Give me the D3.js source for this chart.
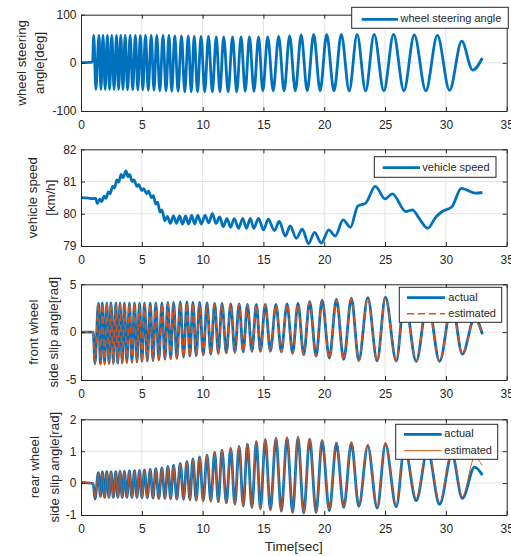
<!DOCTYPE html>
<html>
<head>
<meta charset="utf-8">
<script src="https://cdn.jsdelivr.net/npm/d3@7/dist/d3.min.js"></script>
<style>
  body { margin: 0; background: #fff; }
  text { font-family: Arial, "Liberation Sans", Helvetica, sans-serif; fill: #262626; }
</style>
</head>
<body>
<script>
// time axis
const timeTicks = [0, 5, 10, 15, 20, 25, 30, 35];

// y ticks per panel
const steerTicks = [-100, 0, 100];
const speedTicks = [79, 80, 81, 82];
const frontTicks = [-5, 0, 5];
const rearTicks = [-1, 0, 1, 2];

// wheel steering angle, turning points [sec] / [deg]
const steerT = [
  0, 0.95, 1.05, 1.22, 1.48, 1.64, 1.81, 1.99, 2.17, 2.35,
  2.53, 2.72, 2.92, 3.09, 3.27, 3.45, 3.63, 3.83, 4.04, 4.25,
  4.47, 4.67, 4.88, 5.08, 5.3, 5.53, 5.77, 6.0, 6.23, 6.48,
  6.74, 6.99, 7.23, 7.46, 7.71, 7.98, 8.26, 8.53, 8.82, 9.06,
  9.31, 9.58, 9.87, 10.17, 10.48, 10.8, 11.12, 11.42, 11.73, 12.1,
  12.46, 12.8, 13.16, 13.5, 13.85, 14.22, 14.6, 14.95, 15.35, 15.8,
  16.25, 16.7, 17.15, 17.62, 18.1, 18.6, 19.13, 19.66, 20.2, 20.8,
  21.4, 22.05, 22.7, 23.4, 24.1, 24.9, 25.7, 26.55, 27.4, 28.35,
  29.3, 30.3, 31.3, 32.2, 33.0
];
const steerV = [
  0.5, 1.5, 57, -55, 57, -55, 57, -55, 57, -55,
  57, -55, 57, -55, 57, -55, 57, -56, 57, -56,
  57, -56, 57, -56, 57, -57, 57, -57, 57, -58,
  57, -58, 57, -59, 56, -59, 56, -60, 56, -60,
  55, -60, 55, -60, 55, -60, 54, -60, 54, -60,
  54, -60, 54, -59, 54, -59, 54, -58, 54, -58,
  55, -58, 56, -58, 58, -58, 59, -58, 59, -58,
  59, -58, 59, -58, 59, -58, 59, -58, 58, -58,
  57, -57, 45, -15, 10
];

// vehicle speed [sec] / [km/h]
const speedT = [
  0, 0.5, 1.0, 1.2, 1.35, 1.55, 1.7, 1.9, 2.05, 2.25,
  2.4, 2.6, 2.75, 2.95, 3.1, 3.3, 3.45, 3.7, 3.85, 4.0,
  4.2, 4.35, 4.6, 4.75, 5.0, 5.15, 5.4, 5.55, 5.8, 5.95,
  6.15, 6.3, 6.5, 6.65, 6.9, 7.1, 7.35, 7.6, 7.85, 8.1,
  8.35, 8.6, 8.85, 9.1, 9.35, 9.6, 9.9, 10.2, 10.5, 10.8,
  11.1, 11.4, 11.7, 12.0, 12.3, 12.6, 12.95, 13.3, 13.6, 13.92,
  14.2, 14.6, 15.0, 15.4, 15.9, 16.3, 16.8, 17.2, 17.7, 18.2,
  18.7, 19.2, 19.76, 20.37, 20.9, 21.55, 22.15, 22.75, 23.4, 24.2,
  25.0, 25.6, 26.7, 27.25, 27.8, 28.5, 29.2, 29.7, 30.5, 31.27,
  32.45, 33.0
];
const speedV = [
  80.50, 80.49, 80.47, 80.48, 80.32, 80.45, 80.38, 80.55, 80.48, 80.68,
  80.62, 80.85, 80.80, 81.05, 80.98, 81.22, 81.12, 81.33, 81.15, 81.22,
  81.00, 81.05, 80.85, 80.90, 80.72, 80.78, 80.62, 80.70, 80.50, 80.56,
  80.30, 80.36, 80.05, 80.12, 79.78, 79.92, 79.70, 79.93, 79.70, 79.93,
  79.68, 79.93, 79.68, 79.95, 79.68, 79.95, 79.68, 79.95, 79.72, 80.00,
  79.70, 79.90, 79.60, 79.85, 79.58, 79.85, 79.55, 79.86, 79.55, 79.86,
  79.55, 79.86, 79.50, 79.83, 79.48, 79.76, 79.31, 79.62, 79.24, 79.52,
  79.07, 79.42, 79.09, 79.50, 79.31, 79.81, 79.58, 80.24, 80.33, 80.85,
  80.46, 80.62, 80.07, 80.12, 79.86, 79.55, 79.91, 80.07, 80.22, 80.79,
  80.64, 80.66
];

// side slip angles, shared turning points [sec]
const slipT = [
  0, 1.0, 1.15, 1.43, 1.6, 1.76, 1.94, 2.12, 2.3, 2.47,
  2.66, 2.86, 3.03, 3.21, 3.39, 3.57, 3.77, 3.98, 4.19, 4.40,
  4.6, 4.81, 5.01, 5.22, 5.45, 5.69, 5.92, 6.15, 6.4, 6.65,
  6.9, 7.14, 7.37, 7.61, 7.88, 8.16, 8.43, 8.71, 8.95, 9.2,
  9.47, 9.75, 10.05, 10.36, 10.67, 10.99, 11.29, 11.59, 11.95, 12.31,
  12.65, 13.0, 13.34, 13.68, 14.05, 14.42, 14.75, 15.15, 15.57, 16.03,
  16.47, 16.94, 17.4, 17.84, 18.31, 18.8, 19.33, 19.82, 20.42, 21.0,
  21.6, 22.23, 22.84, 23.58, 24.35, 25.03, 25.92, 26.6, 27.56, 28.5,
  29.48, 30.5, 31.35, 32.36, 33.0
];

// front wheel side slip angle [rad]
const frontActual = [
  0, 0, -3.25, 3.0, -3.25, 3.05, -3.25, 3.05, -3.25, 3.05,
  -3.2, 3.05, -3.2, 3.05, -3.2, 3.05, -3.15, 3.05, -3.1, 3.05,
  -3.1, 3.05, -3.05, 3.05, -3.0, 3.05, -2.95, 3.05, -2.9, 3.05,
  -2.8, 3.1, -2.75, 3.1, -2.7, 3.15, -2.6, 3.15, -2.5, 3.1,
  -2.45, 3.1, -2.35, 3.05, -2.3, 3.0, -2.2, 3.0, -2.15, 2.95,
  -2.1, 2.95, -2.05, 2.9, -2.0, 2.9, -2.0, 2.9, -2.0, 2.9,
  -2.05, 2.95, -2.2, 3.0, -2.35, 3.2, -2.5, 3.35, -2.7, 3.45,
  -2.85, 3.55, -2.95, 3.6, -3.0, 3.65, -3.0, 3.55, -3.05, 3.35,
  -3.05, 3.0, -2.3, 1.5, -0.2
];
const frontEstimated = [
  0, 0, -3.4, 3.0, -3.4, 3.0, -3.4, 3.0, -3.35, 3.0,
  -3.35, 3.0, -3.3, 3.0, -3.3, 3.0, -3.25, 3.0, -3.2, 3.0,
  -3.2, 3.0, -3.15, 3.0, -3.1, 3.0, -3.05, 3.0, -3.0, 3.0,
  -2.9, 3.05, -2.85, 3.05, -2.8, 3.1, -2.7, 3.1, -2.6, 3.05,
  -2.55, 3.05, -2.45, 3.0, -2.4, 2.95, -2.3, 2.95, -2.2, 2.9,
  -2.15, 2.9, -2.1, 2.85, -2.05, 2.85, -2.05, 2.85, -2.05, 2.85,
  -2.1, 2.9, -2.25, 2.95, -2.4, 3.15, -2.55, 3.3, -2.75, 3.4,
  -2.9, 3.5, -3.0, 3.55, -3.05, 3.6, -3.05, 3.5, -3.1, 3.3,
  -3.1, 2.95, -2.35, 1.45, -0.25
];

// rear wheel side slip angle [rad]
const rearActual = [
  0.02, -0.02, -0.5, 0.33, -0.42, 0.35, -0.45, 0.36, -0.45, 0.35,
  -0.45, 0.36, -0.45, 0.37, -0.45, 0.37, -0.45, 0.38, -0.45, 0.39,
  -0.45, 0.40, -0.46, 0.41, -0.46, 0.43, -0.47, 0.45, -0.48, 0.48,
  -0.48, 0.52, -0.49, 0.56, -0.50, 0.62, -0.50, 0.68, -0.52, 0.76,
  -0.53, 0.82, -0.55, 0.88, -0.56, 0.96, -0.58, 1.03, -0.62, 1.09,
  -0.66, 1.15, -0.72, 1.22, -0.77, 1.30, -0.80, 1.36, -0.84, 1.40,
  -0.88, 1.42, -0.92, 1.43, -0.94, 1.38, -0.92, 1.33, -0.86, 1.25,
  -0.76, 1.25, -0.73, 1.17, -0.78, 1.22, -0.74, 1.15, -0.55, 1.05,
  -0.67, 0.92, -0.48, 0.50, 0.25
];
const rearEstimated = [
  0.03, -0.01, -0.45, 0.30, -0.45, 0.33, -0.47, 0.34, -0.47, 0.34,
  -0.47, 0.35, -0.46, 0.36, -0.46, 0.36, -0.46, 0.37, -0.46, 0.38,
  -0.47, 0.39, -0.47, 0.40, -0.48, 0.42, -0.48, 0.44, -0.50, 0.47,
  -0.50, 0.51, -0.52, 0.56, -0.53, 0.61, -0.54, 0.68, -0.56, 0.75,
  -0.57, 0.82, -0.58, 0.89, -0.60, 0.97, -0.62, 1.05, -0.65, 1.11,
  -0.68, 1.18, -0.74, 1.25, -0.79, 1.33, -0.82, 1.39, -0.86, 1.43,
  -0.89, 1.45, -0.93, 1.46, -0.95, 1.41, -0.92, 1.36, -0.84, 1.29,
  -0.74, 1.30, -0.70, 1.22, -0.74, 1.28, -0.70, 1.22, -0.47, 1.12,
  -0.60, 1.00, -0.43, 0.80, 0.55
];

const blue = '#0072bd';
const orange = '#d95319';
const ink = '#262626';
const gridColor = '#e3e3e3';

const width = 511;
const height = 556;

const x = d3.scaleLinear().domain([0, 35]).range([81, 506.7]);

const zip = (t, v) => t.map((d, i) => [d, v[i]]);

const actualStyle = { color: blue, width: 2.8 };
const dashedStyle = { color: orange, width: 1.6, dash: '7,4' };
const thinStyle = { color: orange, width: 1 };

const panels = [
  {
    top: 14.7, bottom: 111, domain: [-100, 100], ticks: steerTicks,
    label: ['wheel steering', 'angle[deg]'], labelX: [26, 44],
    series: [{ data: zip(steerT, steerV), style: actualStyle }],
    legend: { x: 351.7, y: 7.3, w: 156.6, h: 21, lineX: [361.7, 398], textX: 400.5,
      rows: [{ y: 19.3, text: 'wheel steering angle', style: actualStyle }] }
  },
  {
    top: 149.3, bottom: 246, domain: [79, 82], ticks: speedTicks,
    label: ['vehicle speed', '[km/h]'], labelX: [36.5, 54.5],
    series: [{ data: zip(speedT, speedV), style: actualStyle }],
    legend: { x: 374.3, y: 156.7, w: 121.7, h: 20.6, lineX: [382.7, 420], textX: 422.3,
      rows: [{ y: 167.7, text: 'vehicle speed', style: actualStyle }] }
  },
  {
    top: 284.3, bottom: 380, domain: [-5, 5], ticks: frontTicks,
    label: ['front wheel', 'side slip angle[rad]'], labelX: [38, 58],
    series: [
      { data: zip(slipT, frontActual), style: actualStyle },
      { data: zip(slipT, frontEstimated), style: dashedStyle }
    ],
    legend: { x: 399.3, y: 287.3, w: 102.4, h: 35, lineX: [407, 445], textX: 448.3,
      rows: [
        { y: 297.7, text: 'actual', style: actualStyle },
        { y: 313.7, text: 'estimated', style: dashedStyle }
      ] }
  },
  {
    top: 419.3, bottom: 515, domain: [-1, 2], ticks: rearTicks,
    label: ['rear wheel', 'side slip angle[rad]'], labelX: [39, 58.5],
    series: [
      { data: zip(slipT, rearActual), style: actualStyle },
      { data: zip(slipT, rearEstimated), style: thinStyle }
    ],
    legend: { x: 395.7, y: 424.3, w: 102, h: 35, lineX: [404, 441.7], textX: 444.3,
      rows: [
        { y: 434.3, text: 'actual', style: actualStyle },
        { y: 450.7, text: 'estimated', style: thinStyle }
      ] }
  }
];

const svg = d3.select('body')
  .append('svg')
  .attr('width', width)
  .attr('height', height);

const styleLine = (sel, s) => sel
  .attr('fill', 'none')
  .attr('stroke', s.color)
  .attr('stroke-width', s.width)
  .attr('stroke-dasharray', s.dash || null);

panels.forEach((p, idx) => {
  const y = d3.scaleLinear().domain(p.domain).range([p.bottom, p.top]);
  const g = svg.append('g');
  const [x0, x1] = x.range();

  // grid
  g.append('g').selectAll('line').data(timeTicks.slice(1, -1)).enter().append('line')
    .attr('x1', d => x(d)).attr('x2', d => x(d))
    .attr('y1', p.top).attr('y2', p.bottom)
    .attr('stroke', gridColor);
  g.append('g').selectAll('line').data(p.ticks.slice(1, -1)).enter().append('line')
    .attr('x1', x0).attr('x2', x1)
    .attr('y1', d => y(d)).attr('y2', d => y(d))
    .attr('stroke', gridColor);

  // lines, clipped to the axes
  const clipId = `clip${idx}`;
  g.append('clipPath').attr('id', clipId)
    .append('rect')
    .attr('x', x0).attr('y', p.top)
    .attr('width', x1 - x0).attr('height', p.bottom - p.top);

  const line = d3.line()
    .x(d => x(d[0]))
    .y(d => y(d[1]))
    .curve(d3.curveMonotoneX);

  p.series.forEach((s) => {
    g.append('path')
      .attr('clip-path', `url(#${clipId})`)
      .attr('d', line(s.data))
      .call(styleLine, s.style);
  });

  // axes with inward ticks on all four sides
  const fmt = d => String(d);
  const bottomAxis = d3.axisBottom(x).tickValues(timeTicks).tickFormat(fmt)
    .tickSize(-4).tickSizeOuter(0).tickPadding(9);
  const topAxis = d3.axisTop(x).tickValues(timeTicks).tickSize(-4).tickSizeOuter(0).tickFormat('');
  const leftAxis = d3.axisLeft(y).tickValues(p.ticks).tickFormat(fmt)
    .tickSize(-4).tickSizeOuter(0).tickPadding(4.5);
  const rightAxis = d3.axisRight(y).tickValues(p.ticks).tickSize(-4).tickSizeOuter(0).tickFormat('');

  const axes = [
    g.append('g').attr('transform', `translate(0,${p.bottom})`).call(bottomAxis),
    g.append('g').attr('transform', `translate(0,${p.top})`).call(topAxis),
    g.append('g').attr('transform', `translate(${x0},0)`).call(leftAxis),
    g.append('g').attr('transform', `translate(${x1},0)`).call(rightAxis)
  ];
  axes.forEach((a) => {
    a.selectAll('path, line').attr('stroke', ink);
    a.selectAll('text').attr('fill', ink).style('font-size', '12px')
      .style('font-family', 'Arial, "Liberation Sans", Helvetica, sans-serif');
  });

  // y label, two lines
  const yc = (p.top + p.bottom) / 2;
  p.label.forEach((txt, i) => {
    g.append('text')
      .attr('transform', `translate(${p.labelX[i]},${yc}) rotate(-90)`)
      .attr('text-anchor', 'middle')
      .style('font-size', '13.3px')
      .text(txt);
  });

  // legend
  const L = p.legend;
  g.append('rect')
    .attr('x', L.x).attr('y', L.y)
    .attr('width', L.w).attr('height', L.h)
    .attr('fill', '#fff')
    .attr('stroke', ink)
    .attr('stroke-width', 1);
  L.rows.forEach((r) => {
    g.append('line')
      .attr('x1', L.lineX[0]).attr('x2', L.lineX[1])
      .attr('y1', r.y).attr('y2', r.y)
      .call(styleLine, r.style);
    g.append('text')
      .attr('x', L.textX).attr('y', r.y)
      .attr('dominant-baseline', 'middle')
      .style('font-size', '11px')
      .text(r.text);
  });
});

svg.append('text')
  .attr('x', (x.range()[0] + x.range()[1]) / 2)
  .attr('y', 551)
  .attr('text-anchor', 'middle')
  .style('font-size', '13.5px')
  .text('Time[sec]');
</script>
</body>
</html>
